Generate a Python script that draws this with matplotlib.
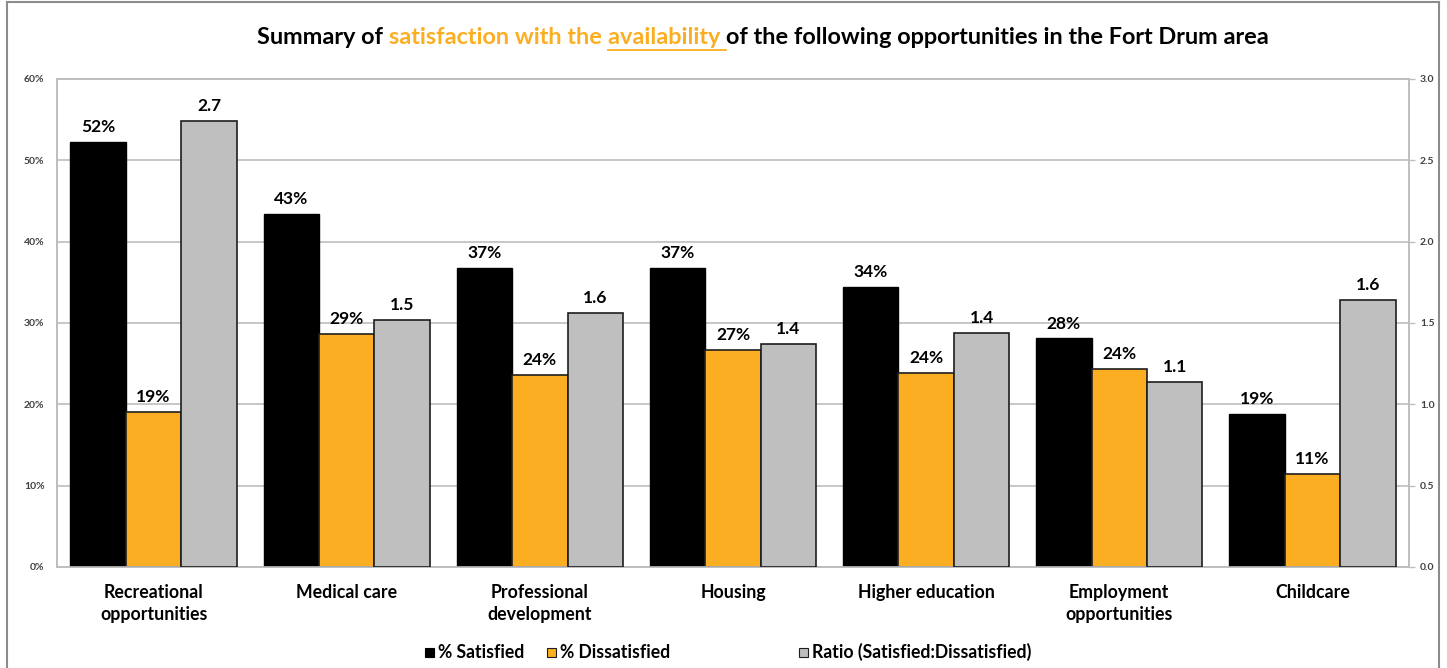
import matplotlib
matplotlib.use("Agg")
import matplotlib.pyplot as plt
from matplotlib.patches import Rectangle
from matplotlib.lines import Line2D
import numpy as np

# ---- data -------------------------------------------------------------
categories = ["Recreational\nopportunities", "Medical care", "Professional\ndevelopment",
              "Housing", "Higher education", "Employment\nopportunities", "Childcare"]
pct_satisfied = [52.3, 43.4, 36.8, 36.8, 34.4, 28.1, 18.8]
pct_dissatisfied = [19.1, 28.6, 23.6, 26.7, 23.9, 24.3, 11.4]
ratio_sat_dissat = [2.74, 1.52, 1.56, 1.37, 1.44, 1.14, 1.64]
series_names = ["% Satisfied", "% Dissatisfied", "Ratio (Satisfied:Dissatisfied)"]
pct_ticks = [0, 10, 20, 30, 40, 50, 60]
ratio_ticks = [0.0, 0.5, 1.0, 1.5, 2.0, 2.5, 3.0]
title_parts = [("Summary of ", "black", False),
               ("satisfaction with the ", "orange", False),
               ("availability ", "orange", True),
               ("of the following opportunities in the Fort Drum area", "black", False)]

# ---- style ------------------------------------------------------------
FONT = "Lato"
BLACK = "#000000"
ORANGE = "#FBAE22"
GRAY = "#BFBFBF"
EDGE = "#1E1E1E"
GRID = "#BEBEBE"
TICKTXT = "#404040"
plt.rcParams["font.family"] = [FONT, "DejaVu Sans"]

W, H = 1447, 668
fig = plt.figure(figsize=(W / 100, H / 100), dpi=100)
fig.patch.set_facecolor("white")

# plot area in pixel coordinates
L, R, T, B = 57, 1409, 79, 567
ax = fig.add_axes([L / W, 1 - B / H, (R - L) / W, (B - T) / H])
ax2 = ax.twinx()

x = np.arange(len(categories))
bw = 0.287

b_sat = ax.bar(x - bw, pct_satisfied, bw, color=BLACK, edgecolor=BLACK, linewidth=1, zorder=3)
b_dis = ax.bar(x, pct_dissatisfied, bw, color=ORANGE, edgecolor=EDGE, linewidth=1.2, zorder=3)
b_rat = ax2.bar(x + bw, ratio_sat_dissat, bw, color=GRAY, edgecolor=EDGE, linewidth=1.2, zorder=3)

lab_kw = dict(fontsize=12.5, fontweight="bold", color="black", padding=5)
ax.bar_label(b_sat, labels=[f"{v:.0f}%" for v in pct_satisfied], **lab_kw)
ax.bar_label(b_dis, labels=[f"{v:.0f}%" for v in pct_dissatisfied], **lab_kw)
ax2.bar_label(b_rat, labels=[f"{v:.1f}" for v in ratio_sat_dissat], **lab_kw)

ax.set_xlim(-0.5, len(categories) - 0.5)
ax.set_ylim(0, 60)
ax2.set_ylim(0, 3.0)
ax.set_yticks(pct_ticks)
ax.set_yticklabels([f"{t}%" for t in pct_ticks])
ax2.set_yticks(ratio_ticks)
ax2.set_yticklabels([f"{t:.1f}" for t in ratio_ticks])

ax.set_axisbelow(True)
ax.yaxis.grid(True, color=GRID, linewidth=1.2)
ax.xaxis.grid(False)

ax.set_xticks(x)
ax.set_xticklabels(categories, fontsize=12.8, fontweight="bold", linespacing=1.35)
ax.tick_params(axis="x", length=0, pad=12)
ax.tick_params(axis="y", length=0, pad=9, labelsize=7.5, labelcolor=TICKTXT)
for lbl in ax.get_yticklabels():
    lbl.set_fontweight("bold")
ax2.tick_params(axis="y", length=4, width=1, color=GRID, pad=4, labelsize=7.5, labelcolor=TICKTXT,
                direction="out")
for lbl in ax2.get_yticklabels():
    lbl.set_fontweight("bold")

for a in (ax, ax2):
    for s in a.spines.values():
        s.set_color(GRID)
        s.set_linewidth(1.2)

# ---- title with coloured / underlined phrase ----------------------------
renderer = fig.canvas.get_renderer()
title_size = 16.9
title_y = 1 - 38 / H
title_center = 763
colors = {"black": "black", "orange": ORANGE}
widths = []
tmp = []
for txt, c, _ in title_parts:
    t = fig.text(0, 0, txt, fontsize=title_size, fontweight="bold")
    tmp.append(t)
t_sp = fig.text(0, 0, "a a", fontsize=title_size, fontweight="bold")
t_nsp = fig.text(0, 0, "aa", fontsize=title_size, fontweight="bold")
space_w = t_sp.get_window_extent(renderer).width - t_nsp.get_window_extent(renderer).width
for t, (txt, _, _) in zip(tmp, title_parts):
    stripped = txt.rstrip(" ")
    t.set_text(stripped)
    w = t.get_window_extent(renderer).width + space_w * (len(txt) - len(stripped))
    widths.append(w)
for t in tmp + [t_sp, t_nsp]:
    t.remove()

total = sum(widths)
xpix = title_center - total / 2
for (txt, c, ul), w in zip(title_parts, widths):
    fig.text(xpix / W, title_y, txt, fontsize=title_size, fontweight="bold",
             color=colors[c], ha="left", va="center")
    if ul:
        uy = title_y - 12 / H
        fig.add_artist(Line2D([xpix / W, (xpix + w) / W], [uy, uy], color=colors[c], lw=1.3))
    xpix += w

# ---- legend ------------------------------------------------------------
leg_y = 652
leg_items = [(425, BLACK, BLACK), (547, ORANGE, EDGE), (799, GRAY, EDGE)]
sq = 9
for (lx, fc, ec), name in zip(leg_items, series_names):
    fig.add_artist(Rectangle((lx / W, 1 - (leg_y + sq / 2) / H), sq / W, sq / H,
                             facecolor=fc, edgecolor=ec, linewidth=0.8, transform=fig.transFigure))
    fig.text((lx + sq + 4) / W, 1 - leg_y / H, name, fontsize=12.7, fontweight="bold",
             ha="left", va="center")

# ---- outer frame -------------------------------------------------------
frame_c = "#8C8C8C"
fig.add_artist(Line2D([7 / W, 1439 / W], [1 - 2 / H, 1 - 2 / H], color=frame_c, lw=1.5))
fig.add_artist(Line2D([7 / W, 7 / W], [0, 1 - 2 / H], color=frame_c, lw=1.5))
fig.add_artist(Line2D([1439 / W, 1439 / W], [0, 1 - 2 / H], color=frame_c, lw=1.5))

fig.savefig("out.png", dpi=100)
